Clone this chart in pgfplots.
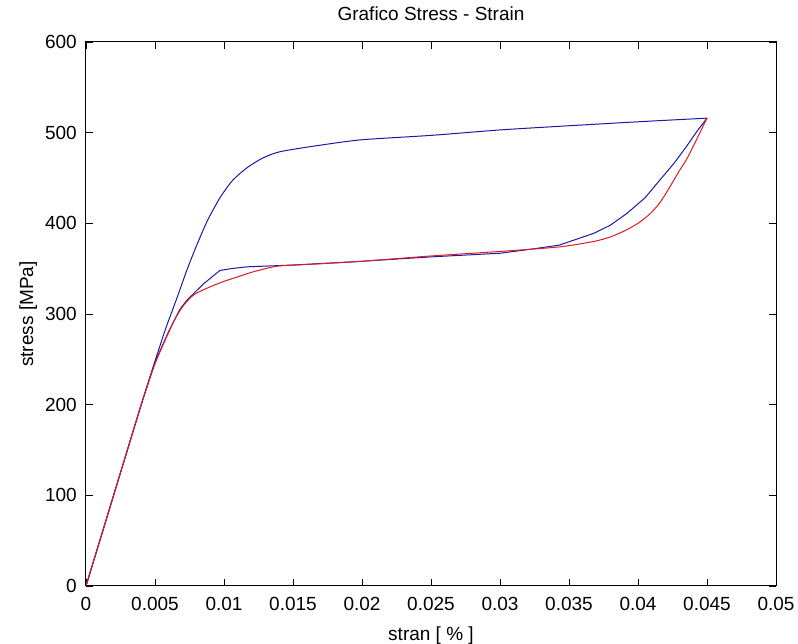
\documentclass[border=0pt]{standalone}
\usepackage{fontspec}
\setmainfont{Liberation Sans}
\usepackage{pgfplots}
\pgfplotsset{compat=1.18}
\definecolor{mblue}{RGB}{25,25,165}
\definecolor{mred}{RGB}{225,25,35}
\begin{document}
\begin{tikzpicture}
\begin{axis}[
  scale only axis, width=690pt, height=544pt,
  xmin=0, xmax=0.05, ymin=0, ymax=600,
  xtick={0,0.005,0.01,0.015,0.02,0.025,0.03,0.035,0.04,0.045,0.05},
  xticklabels={0,0.005,0.01,0.015,0.02,0.025,0.03,0.035,0.04,0.045,0.05},
  scaled x ticks=false,
  ytick={0,100,200,300,400,500,600},
  tick align=inside, major tick length=7pt,
  axis line style={black, line width=1pt},
  tick style={black, line width=0.8pt},
  font=\fontsize{19}{22}\selectfont,
  /pgf/number format/assume math mode=true,
  xticklabel style={anchor=base, inner sep=0pt, yshift=-25pt},
  yticklabel style={anchor=east, inner sep=0pt, xshift=-9pt},
  title={Grafico Stress - Strain},
  title style={at={(axis description cs:0.5,1.0276)}, anchor=base, inner sep=0pt},
  xlabel={stran [ \% ]},
  xlabel style={at={(axis description cs:0.5,-0.0993)}, anchor=base, inner sep=0pt},
  ylabel={stress [MPa]},
  ylabel style={at={(axis description cs:-0.0768,0.5)}, anchor=base, inner sep=0pt},
]
% upper loading branch (blue)
\addplot[mblue, line width=1pt, smooth, tension=0.4] coordinates {
 (0,0) (0.001,50) (0.002,100) (0.003,150) (0.004,200) (0.005,248)
 (0.0058,285) (0.0066,318) (0.0073,348) (0.008,375) (0.0088,403)
 (0.0097,428) (0.0106,447) (0.01164,461) (0.0128,472) (0.01406,479)
 (0.01645,485) (0.01986,492) (0.025,497) (0.03,503) (0.0343,507)
 (0.04,512) (0.045,516)
};
% lower branch (blue)
\addplot[mblue, line width=1pt] coordinates {
 (0,0) (0.001,50) (0.002,100) (0.003,150) (0.004,200) (0.005,247)
 (0.006,281) (0.0068,305) (0.0073,315) (0.0085,333) (0.0097,348)
 (0.0105,350) (0.01164,352) (0.015,354) (0.01986,358) (0.025,363)
 (0.03,367) (0.0325,372) (0.0343,376) (0.0368,389) (0.038,398)
 (0.0392,411) (0.0405,428) (0.0416,448) (0.0426,466) (0.0435,484.5)
 (0.0443,502) (0.045,516)
};
% red curve
\addplot[mred, line width=1pt, smooth, tension=0.4] coordinates {
 (0,0) (0.001,50) (0.002,100) (0.003,150) (0.004,200) (0.005,245)
 (0.006,280) (0.0065,296) (0.007,308) (0.0075,317) (0.008,323)
 (0.009,330) (0.01,336) (0.011,341) (0.012,346) (0.013,350)
 (0.014,353) (0.0165,355) (0.01986,358) (0.025,364) (0.03,369)
 (0.0343,374) (0.0368,380) (0.038,385) (0.0392,393) (0.0401,401)
 (0.0409,411) (0.0416,423) (0.0423,440) (0.043,458) (0.0435,470)
 (0.0441,488) (0.045,516)
};
\end{axis}
\path (current axis.south west) ++(-86pt,-58pt) rectangle ++(798pt,644pt);
\end{tikzpicture}
\end{document}
